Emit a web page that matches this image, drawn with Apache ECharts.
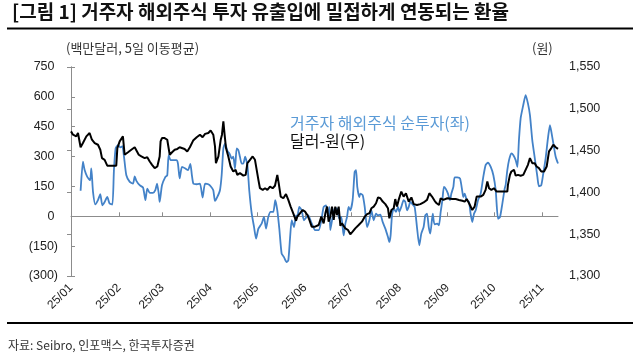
<!DOCTYPE html>
<html>
<head>
<meta charset="utf-8">
<script src="https://cdn.jsdelivr.net/npm/echarts@6/dist/echarts.min.js"></script>
<style>
html,body{margin:0;padding:0;background:#fff;}
#c{width:640px;height:360px;}
</style>
</head>
<body>
<div id="c"></div>
<script>
// ---- data (x = days since 2025-01-01) ----
var titleText = '[그림 1] 거주자 해외주식 투자 유출입에 밀접하게 연동되는 환율';
var leftUnit = '(백만달러, 5일 이동평균)';
var rightUnit = '(원)';
var sourceText = '자료: Seibro, 인포맥스, 한국투자증권';
var flowName = '거주자 해외주식 순투자(좌)';
var fxName = '달러-원(우)';

var monthStartDays = [0, 31, 59, 90, 120, 151, 181, 212, 243, 273, 304];
var monthLabels = ['25/01','25/02','25/03','25/04','25/05','25/06','25/07','25/08','25/09','25/10','25/11'];

var leftTicks = [-300, -150, 0, 150, 300, 450, 600, 750];
var rightTicks = [1300, 1350, 1400, 1450, 1500, 1550];

var fxDays = [0,1.3,3.4,4.5,6.2,7.7,9.9,12,13.5,15.3,17.4,18.9,20,21.7,23.4,29.2,29.9,31.4,33.5,34.6,36.8,38.9,41.1,42.1,43.7,45.4,47.5,49.2,50.8,52.3,54,55.7,57.2,57.8,58.7,60.4,62.1,63.7,65.2,66.9,68.6,70.1,71.2,73.3,75,76.7,78.8,81.1,83.2,84.9,86.5,88.6,90.1,91.8,92.9,93.5,95.1,96.6,97.4,98.3,99.1,100,101.5,103,104.7,106.2,107.3,109,111.2,112.7,113.8,115.5,117.2,118.7,119.8,120.9,121.9,123.7,125.2,126.7,128.4,130.1,131.6,133.1,134,135.3,137,138.7,140.2,141.7,143.4,145.2,146,147.7,149.5,151,152.5,153.8,155.3,157.5,159.8,161.5,163,164.1,165.2,166.2,167.3,168.4,169.5,170.5,171.6,172.7,173.8,174.8,175.9,177,178.7,180.2,181.7,183.4,185.6,187.7,189.5,191,192.5,193.8,195.3,196.8,198.1,199.6,201.1,202.8,204.5,205.4,206.7,208.2,209.2,210.3,211.4,213.1,214.6,216.1,217.9,219.6,221.1,223.2,225.4,227.5,229.7,231.2,232.9,234.6,235.9,237.4,238.5,240.2,242.8,246,248.2,250.3,252.5,254,255.3,256.8,257.8,258.9,260.4,261.7,264.3,266,267.5,268.6,269.7,271.2,272.9,274.6,281.5,281.9,283.2,284.1,285.8,286.9,288.4,290.1,291.8,293.3,294.8,296.1,297.6,299.1,300.4,301.9,303.4,305.2,306.9,308.4,309.9,311.2,312.7,314.2];
var fxValues = [1473,1469,1467,1471,1454,1459,1467,1471,1463,1459,1457,1451,1441,1439,1432,1432,1453,1461,1467,1445,1448,1451,1454,1452,1445,1443,1441,1442,1437,1433,1429,1431,1443,1461,1465,1465,1463,1445,1448,1451,1452,1454,1453,1452,1449,1454,1462,1466,1469,1466,1470,1471,1474,1469,1455,1435,1443,1463,1469,1485,1469,1453,1443,1431,1425,1427,1421,1423,1420,1421,1435,1439,1443,1439,1427,1415,1405,1403,1405,1403,1407,1405,1408,1421,1411,1395,1393,1398,1391,1383,1375,1366,1371,1375,1379,1377,1373,1367,1359,1359,1361,1371,1363,1375,1383,1365,1371,1383,1367,1383,1373,1383,1360,1363,1365,1357,1355,1350,1353,1357,1361,1365,1371,1374,1375,1381,1383,1387,1394,1393,1389,1386,1381,1369,1379,1381,1392,1383,1391,1401,1395,1399,1389,1394,1386,1385,1386,1388,1391,1399,1395,1390,1387,1385,1393,1391,1393,1392,1392,1391,1390,1389,1392,1387,1389,1379,1383,1395,1395,1397,1403,1413,1405,1403,1405,1401,1401,1409,1421,1425,1427,1420,1421,1420,1421,1427,1433,1441,1435,1435,1431,1429,1425,1425,1431,1449,1453,1457,1454,1452];

var flowDays = [6.2,7.7,8.8,10.5,12.3,13.1,14.2,15.7,17.4,18.9,20.2,21.7,23.4,24.9,26.7,27.7,28.8,30.3,32,33.1,34.2,35.7,37.9,40,41.1,42.2,44.3,46.5,48,49.2,50.8,52.9,54.4,55.5,56.6,57.2,58.7,60.9,62.1,63,64.3,65.8,68,69,70.1,71.6,73.8,75.5,77,78,79,81.1,83.2,84.9,86.5,88.6,90.1,91.8,92.9,94.4,96.1,97.2,98.3,99.4,100.9,102.2,103.7,104.7,105.8,106.9,108,109,110.1,111.2,112.3,113.8,115,116.6,118.1,119.4,120.9,123,124.5,125.8,127.3,128.8,130.5,131.8,133.1,134.4,135.9,137.4,139.1,140.2,141.3,142.4,143.9,145.2,146,147.3,148.8,150.3,152,153.1,155,157.5,159.8,161.5,163,164.5,165.8,166.7,167.3,168.8,170.1,171.6,173.1,174.4,175.9,177,178.1,179.1,180.2,181.7,183,183.9,184.7,186,186.7,188.2,189.5,191,192.5,193.8,195.3,196.8,198.1,199.6,201.1,202.8,204.5,205.4,206.2,207.1,208.2,209.7,211,211.8,213.1,214.6,215.7,216.8,217.9,218.9,220,221.7,223.2,224.7,226,227.5,228.6,229.7,230.8,231.8,233.4,234.5,236.3,237.4,238.5,239.6,240.6,241.7,243.2,244.5,245.4,246.7,247.5,249.2,251,252.5,253.1,254,255.3,256.8,257.8,258.9,260,261.1,262.6,264.3,266,267.5,269,270.8,272.5,274,275.5,276.8,278.3,279.8,280.4,281.5,282.6,284.1,285.4,286.9,288,289,290.1,291.8,293.3,294.8,296.1,297.6,299.1,300.9,301.9,303.4,304.7,306.2,307.7,309,309.9,311.2,312.7,314.2];
var flowValues = [128,274,232,198,181,240,123,60,81,111,55,72,97,64,59,232,341,357,346,352,299,206,173,164,201,178,156,144,81,139,118,118,131,164,114,72,156,198,206,307,282,282,282,265,190,248,240,232,263,206,163,161,164,94,164,161,151,131,77,97,131,206,341,366,329,316,290,299,240,341,332,299,265,265,299,257,131,13,-54,-112,-62,-37,-3,-62,-3,22,22,81,30,-62,-188,-205,-230,-222,-112,-20,-54,5,-3,47,30,-20,-3,5,-30,-70,-70,-20,47,55,13,47,-70,-3,39,39,-12,-3,-96,-37,-3,47,30,81,223,232,148,97,114,106,47,-54,-20,30,-20,13,5,8,-29,-62,-104,-129,-96,5,39,22,47,22,47,81,72,30,47,72,64,47,-54,-146,-87,-54,5,13,-54,-87,13,-40,-37,-45,22,81,148,139,114,81,114,148,195,195,190,123,97,114,81,72,13,-29,13,30,81,114,198,257,269,248,206,131,-12,-3,64,139,156,232,282,316,307,282,248,383,492,559,609,567,508,383,299,198,151,156,215,290,391,458,425,366,299,265];

function zip(xs, ys){ var out=[]; for(var i=0;i<xs.length;i++){ out.push([xs[i], ys[i]]); } return out; }

var chart = echarts.init(document.getElementById('c'), null, {renderer:'canvas'});
var numFont = "'Liberation Sans', Arial, 'Noto Sans CJK KR', sans-serif";
var krFont = "'Noto Sans CJK KR', 'Liberation Sans', sans-serif";
var xMax = fxDays[fxDays.length-1];

var option = {
  backgroundColor: '#ffffff',
  animation: false,
  grid: {left: 71, right: 82, top: 67, bottom: 84, containLabel: false},
  legend: {
    left: 280, top: 110, orient: 'vertical', itemGap: 2,
    itemWidth: 0, itemHeight: 0, selectedMode: false,
    textStyle: {fontFamily: krFont, fontSize: 16},
    data: [
      {name: flowName, icon: 'rect', textStyle: {color: '#5a9ad6'}},
      {name: fxName, icon: 'rect', textStyle: {color: '#111111'}}
    ]
  },
  xAxis: [
    {
      type: 'value', min: 0, max: xMax, position: 'bottom',
      axisLine: {show: false, onZero: false},
      axisTick: {show: false},
      splitLine: {show: false},
      axisLabel: {
        customValues: monthStartDays, rotate: 45, margin: 10,
        fontFamily: numFont, fontSize: 12, color: '#222',
        formatter: function(v){ var i = monthStartDays.indexOf(v); return i >= 0 ? monthLabels[i] : ''; }
      }
    },
    {
      type: 'value', min: 0, max: xMax, position: 'bottom',
      axisLine: {show: true, onZero: true, onZeroAxisIndex: 0, lineStyle: {color: '#8c8c8c', width: 1}},
      axisTick: {show: true, inside: true, length: 4, customValues: monthStartDays, lineStyle: {color: '#8c8c8c'}},
      axisLabel: {show: false},
      splitLine: {show: false}
    }
  ],
  yAxis: [
    {
      type: 'value', position: 'left', min: -300, max: 750, interval: 150,
      axisLine: {show: true, lineStyle: {color: '#8c8c8c', width: 1}},
      axisTick: {show: true, inside: true, length: 4, lineStyle: {color: '#8c8c8c'}},
      splitLine: {show: false},
      axisLabel: {
        margin: 13, fontFamily: numFont, fontSize: 12.5, color: '#222',
        formatter: function(v){ return v < 0 ? '(' + Math.abs(v) + ')' : v + ' '; }
      }
    },
    {
      type: 'value', position: 'right', min: 1300, max: 1550, interval: 50,
      axisLine: {show: true, lineStyle: {color: '#8c8c8c', width: 1}},
      axisTick: {show: true, inside: true, length: 4, lineStyle: {color: '#8c8c8c'}},
      splitLine: {show: false},
      axisLabel: {
        margin: 11, fontFamily: numFont, fontSize: 12.5, color: '#222',
        formatter: function(v){ return v.toLocaleString('en-US'); }
      }
    }
  ],
  series: [
    {
      name: flowName, type: 'line', xAxisIndex: 0, yAxisIndex: 0,
      data: zip(flowDays, flowValues), showSymbol: false, smooth: 0.2,
      lineStyle: {color: '#4382c8', width: 1.8}, itemStyle: {color: '#4382c8'}, z: 2
    },
    {
      name: fxName, type: 'line', xAxisIndex: 0, yAxisIndex: 1,
      data: zip(fxDays, fxValues), showSymbol: false,
      lineStyle: {color: '#000000', width: 2}, itemStyle: {color: '#000000'}, z: 3
    }
  ],
  graphic: [
    {type: 'text', left: 12, top: 2, style: {text: titleText, font: "bold 19px 'Noto Sans CJK KR'", fill: '#111'}},
    {type: 'line', shape: {x1: 7, y1: 28.5, x2: 633, y2: 28.5}, style: {stroke: '#000', lineWidth: 2}},
    {type: 'text', left: 66, top: 42, style: {text: leftUnit, font: "13px 'Noto Sans CJK KR'", fill: '#333'}},
    {type: 'text', left: 532, top: 42, style: {text: rightUnit, font: "13px 'Noto Sans CJK KR'", fill: '#333'}},
    {type: 'line', shape: {x1: 7, y1: 323, x2: 633, y2: 323}, style: {stroke: '#000', lineWidth: 2}},
    {type: 'text', left: 8, top: 339, style: {text: sourceText, font: "12px 'Noto Sans CJK KR'", fill: '#333'}}
  ]
};
chart.setOption(option);
</script>
</body>
</html>
